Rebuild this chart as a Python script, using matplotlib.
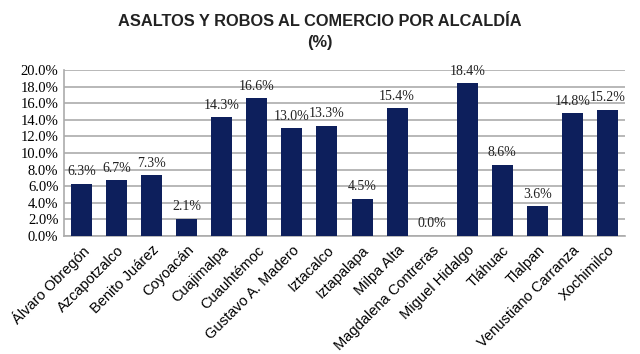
import numpy as np
import matplotlib.pyplot as plt

# data
alcaldias = ['Álvaro Obregón', 'Azcapotzalco', 'Benito Juárez', 'Coyoacán', 'Cuajimalpa',
             'Cuauhtémoc', 'Gustavo A. Madero', 'Iztacalco', 'Iztapalapa', 'Milpa Alta',
             'Magdalena Contreras', 'Miguel Hidalgo', 'Tláhuac', 'Tlalpan',
             'Venustiano Carranza', 'Xochimilco']
porcentajes = [6.3, 6.7, 7.3, 2.1, 14.3, 16.6, 13.0, 13.3, 4.5, 15.4, 0.0, 18.4, 8.6, 3.6, 14.8, 15.2]
yticks = np.arange(0, 20.1, 2.0)

fig = plt.figure(figsize=(6.4, 3.54), dpi=100)
ax = fig.add_axes([64/640, 1 - 236/354, (625 - 64)/640, (236 - 70)/354])

x = np.arange(len(alcaldias))
ax.bar(x, porcentajes, width=0.6, color='#0d1f5c', zorder=3)

for xi, v in zip(x, porcentajes):
    ax.annotate('%.1f%%' % v, (xi, v), xytext=(0, 4), textcoords='offset points',
                ha='center', va='bottom', fontsize=10, family='Liberation Serif', color='#222222')

ax.set_ylim(0, 20)
ax.set_xlim(-0.5, len(alcaldias) - 0.5)
ax.set_yticks(yticks)
ax.set_yticklabels(['%.1f%%' % t for t in yticks], family='Liberation Serif', fontsize=10.5)
ax.yaxis.grid(True, color='#ababab', linewidth=1.2, zorder=0)
ax.tick_params(axis='y', length=0, pad=4)
ax.tick_params(axis='x', length=0, pad=5)
ax.set_xticks(x)
ax.set_xticklabels(alcaldias, rotation=45, ha='right', rotation_mode='anchor',
                   family='Liberation Sans', fontsize=10.5)

for s in ['top', 'right']:
    ax.spines[s].set_visible(False)
for s in ['left', 'bottom']:
    ax.spines[s].set_color('#ababab')
    ax.spines[s].set_linewidth(1.2)

fig.text(0.5, 1 - 22/354, 'ASALTOS Y ROBOS AL COMERCIO POR ALCALDÍA', ha='center', va='center',
         fontsize=11.8, fontweight='bold', family='Liberation Sans', color='#222222')
fig.text(0.5, 1 - 43/354, '(%)', ha='center', va='center',
         fontsize=11.8, fontweight='bold', family='Liberation Sans', color='#222222')

fig.savefig('out.png', dpi=100)
